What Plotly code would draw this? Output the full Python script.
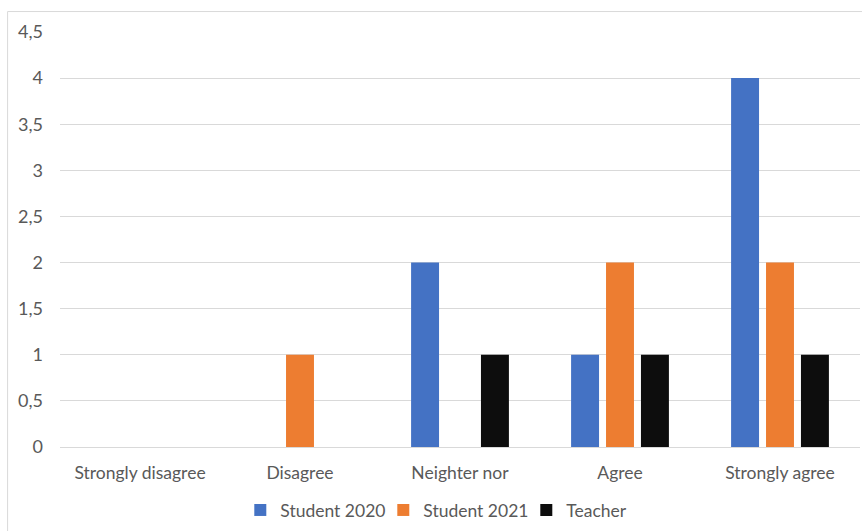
import plotly.graph_objects as go

# Survey responses per answer option
categories = ["Strongly disagree", "Disagree", "Neighter nor", "Agree", "Strongly agree"]
student_2020 = [0, 0, 2, 1, 4]
student_2021 = [0, 1, 0, 2, 2]
teacher = [0, 0, 1, 1, 1]
y_ticks = [0, 0.5, 1, 1.5, 2, 2.5, 3, 3.5, 4, 4.5]

series = [
    ("Student 2020", student_2020, "#4472C4"),
    ("Student 2021", student_2021, "#ED7D31"),
    ("Teacher", teacher, "#0D0D0D"),
]

fig = go.Figure()
for name, values, color in series:
    fig.add_trace(go.Bar(
        x=categories, y=values, name=name,
        marker=dict(color=color, line=dict(width=0)),
    ))

font_family = "Lato, Carlito, 'Open Sans', sans-serif"
text_color = "#595959"

fig.update_layout(
    width=862, height=531,
    margin=dict(l=59.5, r=1.5, t=31.5, b=84),
    paper_bgcolor="white", plot_bgcolor="white",
    barmode="group", bargap=0.345, bargroupgap=0.2,
    separators=", ",
    font=dict(family=font_family, size=17.5, color=text_color),
    showlegend=True,
    legend=dict(
        orientation="h", x=0.4935, xanchor="center", y=-0.152, yanchor="middle",
        font=dict(family=font_family, size=17.5, color=text_color),
        itemwidth=30, traceorder="normal",
        entrywidth=98, entrywidthmode="pixels",
    ),
    xaxis=dict(
        showgrid=False, showline=False, zeroline=False, ticks="",
        tickfont=dict(family=font_family, size=17.5, color=text_color),
        ticklabelstandoff=13,
    ),
    yaxis=dict(
        range=[0, 4.5], tickvals=y_ticks,
        showgrid=True, gridcolor="#D9D9D9", gridwidth=1,
        zeroline=True, zerolinecolor="#D9D9D9", zerolinewidth=1,
        showline=False, ticks="",
        tickfont=dict(family=font_family, size=18, color=text_color),
        ticklabelstandoff=16,
    ),
    shapes=[dict(
        type="rect", xref="paper", yref="paper",
        x0=-0.0655, x1=1.01, y0=-0.3, y1=1.0493,
        line=dict(color="#D9D9D9", width=1), fillcolor="rgba(0,0,0,0)",
        layer="below",
    )],
)

fig.write_html("out.html")
